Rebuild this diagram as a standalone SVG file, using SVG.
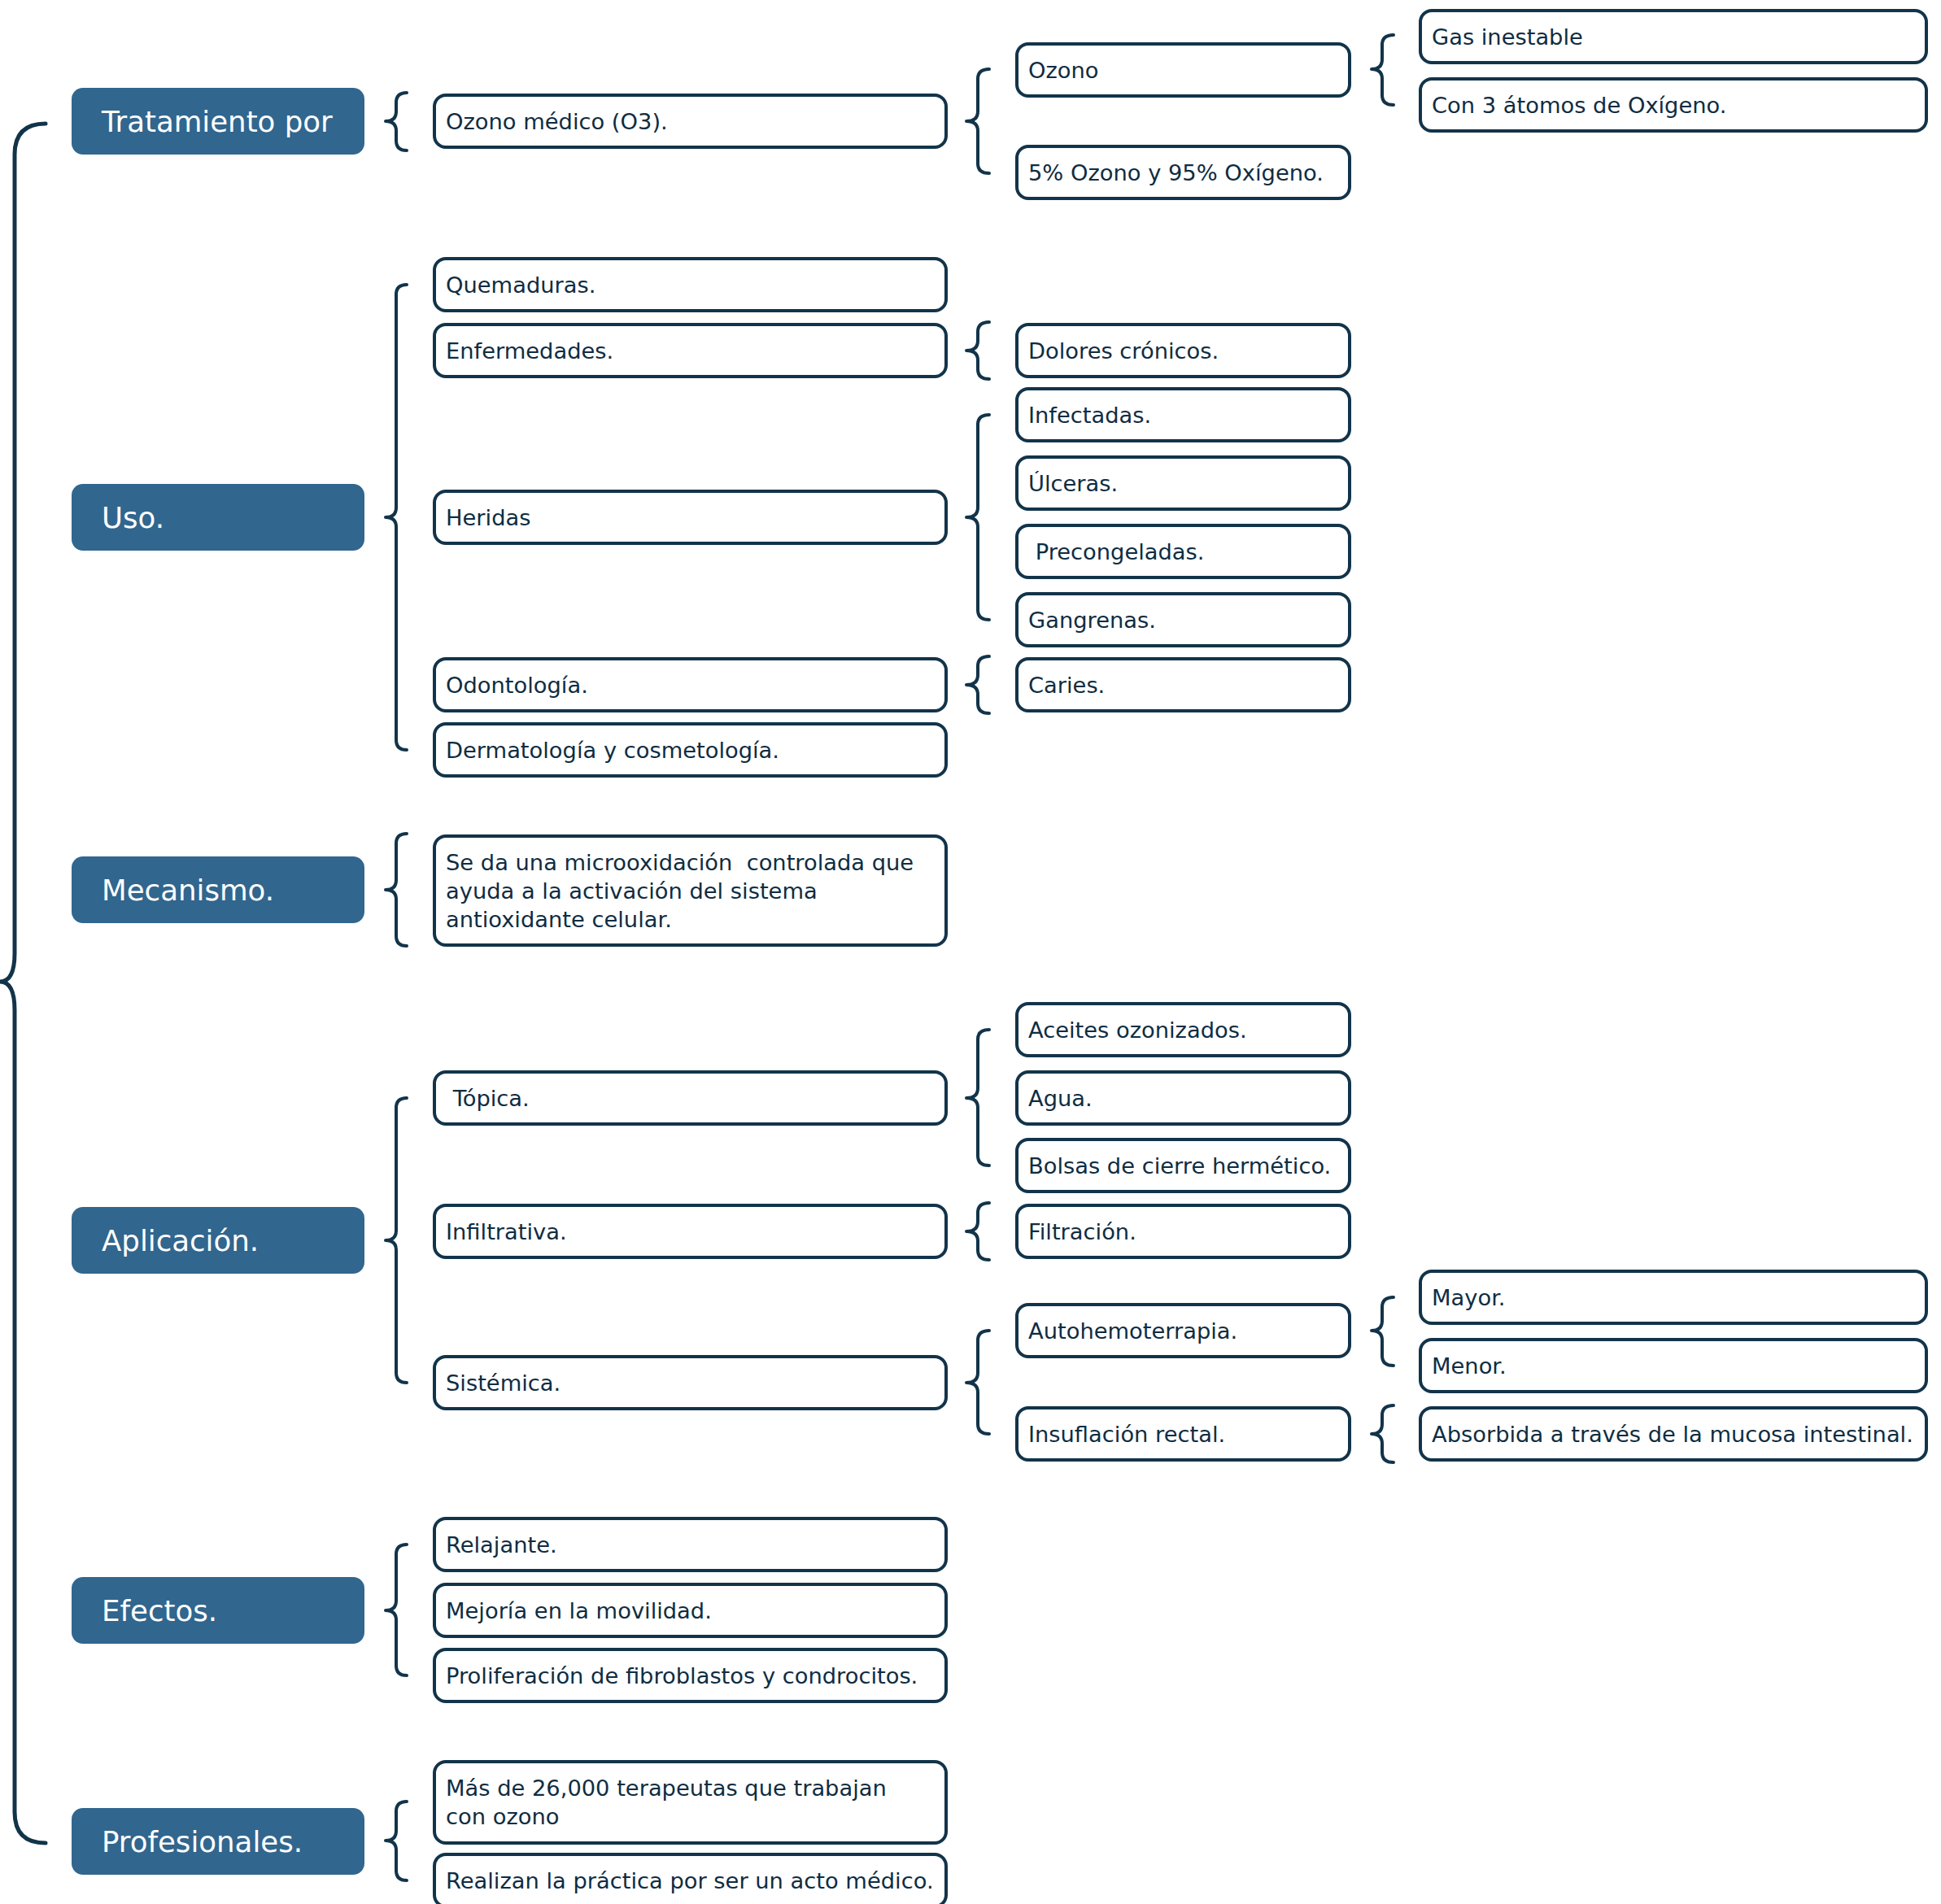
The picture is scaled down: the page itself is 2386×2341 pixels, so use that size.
<svg xmlns="http://www.w3.org/2000/svg" width="2386" height="2341" viewBox="0 0 2386 2341">
<style>
.hd rect{fill:#31668E}
.hd text{fill:#FFFFFF;font-family:"DejaVu Sans",sans-serif;font-size:35.6px}
.bx rect{fill:#FFFFFF;stroke:#12344A;stroke-width:4}
.bx text{fill:#0F2D42;font-family:"DejaVu Sans",sans-serif;font-size:27.3px}
.br path{fill:none;stroke:#12344A;stroke-width:4;stroke-linecap:round;stroke-linejoin:round}
.br path.big{stroke-width:5}
</style>
<rect width="2386" height="2341" fill="#FFFFFF"/>
<g id="connectors" class="br">
<path class="big" d="M56,152 Q18,152 18,190 L18,1172 Q18,1207 0,1207 Q18,1207 18,1242 L18,2228 Q18,2266 56,2266"/>
<path d="M500,114 Q487,114 487,126 L487,137 Q487,149 474,149 Q487,149 487,161 L487,173 Q487,185 500,185"/>
<path d="M1216,85 Q1202,85 1202,97 L1202,137 Q1202,149 1188,149 Q1202,149 1202,161 L1202,201 Q1202,213 1216,213"/>
<path d="M1713,43 Q1699,43 1699,55 L1699,73 Q1699,85 1686,85 Q1699,85 1699,97 L1699,117 Q1699,129 1713,129"/>
<path d="M500,350 Q487,350 487,362 L487,624 Q487,636 474,636 Q487,636 487,648 L487,910 Q487,922 500,922"/>
<path d="M1216,396 Q1202,396 1202,408 L1202,419 Q1202,431 1188,431 Q1202,431 1202,443 L1202,454 Q1202,466 1216,466"/>
<path d="M1216,510 Q1202,510 1202,522 L1202,624 Q1202,636 1188,636 Q1202,636 1202,648 L1202,750 Q1202,762 1216,762"/>
<path d="M1216,807 Q1202,807 1202,819 L1202,830 Q1202,842 1188,842 Q1202,842 1202,854 L1202,865 Q1202,877 1216,877"/>
<path d="M500,1025 Q487,1025 487,1037 L487,1082 Q487,1094 474,1094 Q487,1094 487,1106 L487,1151 Q487,1163 500,1163"/>
<path d="M500,1350 Q487,1350 487,1362 L487,1513 Q487,1525 474,1525 Q487,1525 487,1537 L487,1688 Q487,1700 500,1700"/>
<path d="M1216,1266 Q1202,1266 1202,1278 L1202,1338 Q1202,1350 1188,1350 Q1202,1350 1202,1362 L1202,1421 Q1202,1433 1216,1433"/>
<path d="M1216,1479 Q1202,1479 1202,1491 L1202,1502 Q1202,1514 1188,1514 Q1202,1514 1202,1526 L1202,1537 Q1202,1549 1216,1549"/>
<path d="M1216,1636 Q1202,1636 1202,1648 L1202,1688 Q1202,1700 1188,1700 Q1202,1700 1202,1712 L1202,1751 Q1202,1763 1216,1763"/>
<path d="M1713,1595 Q1699,1595 1699,1607 L1699,1624 Q1699,1636 1686,1636 Q1699,1636 1699,1648 L1699,1667 Q1699,1679 1713,1679"/>
<path d="M1713,1728 Q1699,1728 1699,1740 L1699,1751 Q1699,1763 1686,1763 Q1699,1763 1699,1775 L1699,1786 Q1699,1798 1713,1798"/>
<path d="M500,1899 Q487,1899 487,1911 L487,1968 Q487,1980 474,1980 Q487,1980 487,1992 L487,2048 Q487,2060 500,2060"/>
<path d="M500,2215 Q487,2215 487,2227 L487,2251 Q487,2263 474,2263 Q487,2263 487,2275 L487,2300 Q487,2312 500,2312"/>
</g>

<g id="tratamiento" class="hd"><rect x="88" y="108" width="360" height="82" rx="14"/><text x="125" y="162">Tratamiento por</text></g>
<g id="ozono-medico" class="bx"><rect x="534" y="117" width="629" height="64" rx="14"/><text x="548" y="159">Ozono médico (O3).</text></g>
<g id="ozono" class="bx"><rect x="1250" y="54" width="409" height="64" rx="14"/><text x="1264" y="96">Ozono</text></g>
<g id="cinco-ozono" class="bx"><rect x="1250" y="180" width="409" height="64" rx="14"/><text x="1264" y="222">5% Ozono y 95% Oxígeno.</text></g>
<g id="gas-inestable" class="bx"><rect x="1746" y="13" width="622" height="64" rx="14"/><text x="1760" y="55">Gas inestable</text></g>
<g id="tres-atomos" class="bx"><rect x="1746" y="97" width="622" height="64" rx="14"/><text x="1760" y="139">Con 3 átomos de Oxígeno.</text></g>

<g id="uso" class="hd"><rect x="88" y="595" width="360" height="82" rx="14"/><text x="125" y="649">Uso.</text></g>
<g id="quemaduras" class="bx"><rect x="534" y="318" width="629" height="64" rx="14"/><text x="548" y="360">Quemaduras.</text></g>
<g id="enfermedades" class="bx"><rect x="534" y="399" width="629" height="64" rx="14"/><text x="548" y="441">Enfermedades.</text></g>
<g id="heridas" class="bx"><rect x="534" y="604" width="629" height="64" rx="14"/><text x="548" y="646">Heridas</text></g>
<g id="odontologia" class="bx"><rect x="534" y="810" width="629" height="64" rx="14"/><text x="548" y="852">Odontología.</text></g>
<g id="dermatologia" class="bx"><rect x="534" y="890" width="629" height="64" rx="14"/><text x="548" y="932">Dermatología y cosmetología.</text></g>
<g id="dolores" class="bx"><rect x="1250" y="399" width="409" height="64" rx="14"/><text x="1264" y="441">Dolores crónicos.</text></g>
<g id="infectadas" class="bx"><rect x="1250" y="478" width="409" height="64" rx="14"/><text x="1264" y="520">Infectadas.</text></g>
<g id="ulceras" class="bx"><rect x="1250" y="562" width="409" height="64" rx="14"/><text x="1264" y="604">Úlceras.</text></g>
<g id="precongeladas" class="bx"><rect x="1250" y="646" width="409" height="64" rx="14"/><text x="1264" y="688" xml:space="preserve"> Precongeladas.</text></g>
<g id="gangrenas" class="bx"><rect x="1250" y="730" width="409" height="64" rx="14"/><text x="1264" y="772">Gangrenas.</text></g>
<g id="caries" class="bx"><rect x="1250" y="810" width="409" height="64" rx="14"/><text x="1264" y="852">Caries.</text></g>

<g id="mecanismo" class="hd"><rect x="88" y="1053" width="360" height="82" rx="14"/><text x="125" y="1107">Mecanismo.</text></g>
<g id="microoxidacion" class="bx"><rect x="534" y="1028" width="629" height="134" rx="14"/><text x="548" y="1070" xml:space="preserve">Se da una microoxidación  controlada que</text><text x="548" y="1105">ayuda a la activación del sistema</text><text x="548" y="1140">antioxidante celular.</text></g>

<g id="aplicacion" class="hd"><rect x="88" y="1484" width="360" height="82" rx="14"/><text x="125" y="1538">Aplicación.</text></g>
<g id="topica" class="bx"><rect x="534" y="1318" width="629" height="64" rx="14"/><text x="548" y="1360" xml:space="preserve"> Tópica.</text></g>
<g id="infiltrativa" class="bx"><rect x="534" y="1482" width="629" height="64" rx="14"/><text x="548" y="1524">Infiltrativa.</text></g>
<g id="sistemica" class="bx"><rect x="534" y="1668" width="629" height="64" rx="14"/><text x="548" y="1710">Sistémica.</text></g>
<g id="aceites" class="bx"><rect x="1250" y="1234" width="409" height="64" rx="14"/><text x="1264" y="1276">Aceites ozonizados.</text></g>
<g id="agua" class="bx"><rect x="1250" y="1318" width="409" height="64" rx="14"/><text x="1264" y="1360">Agua.</text></g>
<g id="bolsas" class="bx"><rect x="1250" y="1401" width="409" height="64" rx="14"/><text x="1264" y="1443">Bolsas de cierre hermético.</text></g>
<g id="filtracion" class="bx"><rect x="1250" y="1482" width="409" height="64" rx="14"/><text x="1264" y="1524">Filtración.</text></g>
<g id="autohemoterrapia" class="bx"><rect x="1250" y="1604" width="409" height="64" rx="14"/><text x="1264" y="1646">Autohemoterrapia.</text></g>
<g id="insuflacion" class="bx"><rect x="1250" y="1731" width="409" height="64" rx="14"/><text x="1264" y="1773">Insuflación rectal.</text></g>
<g id="mayor" class="bx"><rect x="1746" y="1563" width="622" height="64" rx="14"/><text x="1760" y="1605">Mayor.</text></g>
<g id="menor" class="bx"><rect x="1746" y="1647" width="622" height="64" rx="14"/><text x="1760" y="1689">Menor.</text></g>
<g id="absorbida" class="bx"><rect x="1746" y="1731" width="622" height="64" rx="14"/><text x="1760" y="1773">Absorbida a través de la mucosa intestinal.</text></g>

<g id="efectos" class="hd"><rect x="88" y="1939" width="360" height="82" rx="14"/><text x="125" y="1993">Efectos.</text></g>
<g id="relajante" class="bx"><rect x="534" y="1867" width="629" height="64" rx="14"/><text x="548" y="1909">Relajante.</text></g>
<g id="movilidad" class="bx"><rect x="534" y="1948" width="629" height="64" rx="14"/><text x="548" y="1990">Mejoría en la movilidad.</text></g>
<g id="proliferacion" class="bx"><rect x="534" y="2028" width="629" height="64" rx="14"/><text x="548" y="2070">Proliferación de fibroblastos y condrocitos.</text></g>

<g id="profesionales" class="hd"><rect x="88" y="2223" width="360" height="82" rx="14"/><text x="125" y="2277">Profesionales.</text></g>
<g id="terapeutas" class="bx"><rect x="534" y="2166" width="629" height="100" rx="14"/><text x="548" y="2208">Más de 26,000 terapeutas que trabajan</text><text x="548" y="2243">con ozono</text></g>
<g id="acto-medico" class="bx"><rect x="534" y="2280" width="629" height="64" rx="14"/><text x="548" y="2322">Realizan la práctica por ser un acto médico.</text></g>
</svg>
